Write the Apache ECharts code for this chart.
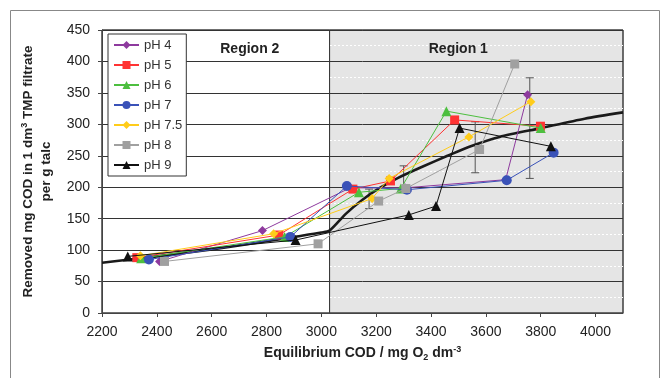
<!DOCTYPE html>
<html>
<head>
<meta charset="utf-8">
<script src="https://cdn.jsdelivr.net/npm/echarts@6/dist/echarts.min.js"></script>
<style>html,body{margin:0;padding:0;background:#fff;}#c{width:660px;height:378px;}</style>
</head>
<body>
<div id="c"></div>
<script>
// ---- data ----
const seriesNames = ['pH 4', 'pH 5', 'pH 6', 'pH 7', 'pH 7.5', 'pH 8', 'pH 9'];
const pH4 = [[2410, 82], [2785, 131], [3105, 199], [3305, 199], [3672, 212], [3752, 347]];
const pH5 = [[2327, 88], [2845, 124], [3115, 197], [3252, 210], [3486, 307], [3799, 297]];
const pH6 = [[2343, 87], [2866, 121], [3137, 192], [3290, 198], [3456, 321], [3800, 294]];
const pH7 = [[2371, 85], [2887, 121], [3093, 202], [3312, 196], [3676, 211], [3847, 255]];
const pH75 = [[2340, 91], [2826, 126], [3185, 182], [3247, 214], [3538, 280], [3764, 336]];
const pH8 = [[2428, 82], [2988, 110], [3209, 178], [3308, 198], [3577, 260], [3705, 396]];
const pH9 = [[2294, 90], [2906, 116], [3319, 156], [3418, 170], [3504, 294], [3837, 265]];
const curveX = [2200, 2400, 2600, 2800, 2900, 3000, 3030, 3090, 3150, 3210, 3280, 3370, 3460, 3550, 3650, 3800, 3960, 4100];
const curveY = [80, 90, 101, 114, 121, 128, 131, 158, 180, 198, 215, 233, 250, 266, 280, 294, 309, 319];
const errX = [3174, 3300, 3561, 3760];
const errLow = [166, 198, 223, 214];
const errHigh = [197, 234, 304, 374];
const regionBoundary = 3030;
const regionNames = ['Region 2', 'Region 1'];
const xTicks = { min: 2200, max: 4100, interval: 200 };
const yTicks = { min: 0, max: 450, interval: 50 };

// ---- styles ----
const colors = ['#8E3A9E', '#FF3333', '#4DBF3F', '#3A52B8', '#FFCC1A', '#A0A0A0', '#111111'];
const symbols = ['diamond', 'rect', 'triangle', 'circle', 'diamond', 'rect', 'triangle'];
const sizes = [9, 9, 10, 10, 9, 9, 10];
const allData = [pH4, pH5, pH6, pH7, pH75, pH8, pH9];
const FONT = "'Liberation Sans', Arial, sans-serif";

const chart = echarts.init(document.getElementById('c'), null, { renderer: 'canvas' });

const dataSeries = allData.map((d, i) => ({
  name: seriesNames[i],
  type: 'line',
  data: d,
  symbol: symbols[i],
  symbolSize: sizes[i],
  showAllSymbol: true,
  lineStyle: { color: colors[i], width: 1 },
  itemStyle: { color: colors[i] },
  z: 3 + i,
  animation: false
}));

const regionAreas = (withFill) => [
  [{ name: regionNames[0], xAxis: xTicks.min, yAxis: yTicks.min, itemStyle: { color: 'rgba(0,0,0,0)' },
     label: { offset: [34, 7] } },
   { xAxis: regionBoundary, yAxis: yTicks.max }],
  [{ name: regionNames[1], xAxis: regionBoundary, yAxis: yTicks.min,
     itemStyle: { color: withFill ? '#E5E5E5' : 'rgba(0,0,0,0)' },
     label: { offset: [-18, 7] } },
   { xAxis: xTicks.max, yAxis: yTicks.max }]
];

const option = {
  animation: false,
  textStyle: { fontFamily: FONT },
  graphic: [{
    type: 'rect', left: 8, top: 8, shape: { width: 649, height: 380 },
    style: { fill: 'none', stroke: '#888', lineWidth: 1 }, silent: true
  }],
  grid: { left: 102, right: 37, top: 30, bottom: 65, show: true, borderColor: '#444', borderWidth: 1, backgroundColor: 'transparent' },
  legend: {
    data: seriesNames,
    orient: 'vertical',
    left: 108, top: 34,
    backgroundColor: '#fff',
    borderColor: '#333', borderWidth: 1, borderRadius: 0,
    padding: [4, 4, 4, 5],
    itemWidth: 25, itemHeight: 10, itemGap: 6,
    textStyle: { fontFamily: FONT, fontSize: 13, color: '#333', lineHeight: 14 }
  },
  xAxis: {
    type: 'value',
    min: xTicks.min, max: xTicks.max, interval: xTicks.interval,
    name: 'Equilibrium COD / mg O{sub|2} dm{sup|-3}',
    nameLocation: 'middle', nameGap: 32,
    nameTextStyle: {
      fontFamily: FONT, fontSize: 14, fontWeight: 'bold', color: '#222',
      rich: {
        sub: { fontFamily: FONT, fontSize: 9, fontWeight: 'bold', color: '#222', padding: [8, 0, 0, 0] },
        sup: { fontFamily: FONT, fontSize: 9, fontWeight: 'bold', color: '#222', padding: [0, 0, 8, 0] }
      }
    },
    axisLine: { show: true, lineStyle: { color: '#444', width: 1 } },
    axisTick: { show: true, length: 4, lineStyle: { color: '#444' } },
    axisLabel: { fontFamily: FONT, fontSize: 14, color: '#222', margin: 12, showMaxLabel: false,
                 formatter: (v) => String(v) },
    splitLine: { show: false }
  },
  yAxis: {
    type: 'value',
    min: yTicks.min, max: yTicks.max, interval: yTicks.interval,
    name: '{t|Removed mg COD in 1 dm}{sup|3}{t| TMP filtrate}\n{t|per g talc}',
    nameLocation: 'middle', nameGap: 36, nameRotate: 90,
    nameTextStyle: {
      fontFamily: FONT, fontSize: 13.5, fontWeight: 'bold', color: '#222', lineHeight: 18,
      rich: {
        t: { fontFamily: FONT, fontSize: 13.5, fontWeight: 'bold', color: '#222', lineHeight: 18 },
        sup: { fontFamily: FONT, fontSize: 9, fontWeight: 'bold', color: '#222', padding: [0, 0, 8, 0] }
      }
    },
    axisLine: { show: true, lineStyle: { color: '#444', width: 1 } },
    axisTick: { show: true, length: 4, lineStyle: { color: '#444' } },
    axisLabel: { fontFamily: FONT, fontSize: 14, color: '#222', margin: 12 },
    splitLine: { show: true, lineStyle: { color: '#333', width: 1 } },
    minorTick: { show: false, splitNumber: 2 },
    minorSplitLine: { show: true, lineStyle: { color: '#ffffff', width: 1, type: [2, 2] } }
  },
  series: [
    {
      name: 'regions', type: 'line', data: [], z: -1,
      markArea: {
        silent: true, z: -1,
        data: regionAreas(true),
        itemStyle: { borderColor: '#333', borderWidth: 1 },
        label: { show: false }
      }
    },
    {
      name: 'regionLabels', type: 'line', data: [], z: 20,
      markArea: {
        silent: true, z: 20,
        data: regionAreas(false),
        itemStyle: { borderWidth: 0 },
        label: { show: true, position: 'insideTop', fontFamily: FONT, fontSize: 14, fontWeight: 'bold', color: '#222' }
      }
    },
    {
      name: 'model', type: 'line',
      data: curveX.map((x, i) => [x, curveY[i]]),
      symbol: 'none', smooth: 0.25,
      lineStyle: { color: '#1a1a1a', width: 2.6 },
      z: 2
    },
    {
      name: 'err', type: 'custom',
      data: errX.map((x, i) => [x, errLow[i], errHigh[i]]),
      renderItem: function (params, api) {
        const lo = api.coord([api.value(0), api.value(1)]);
        const hi = api.coord([api.value(0), api.value(2)]);
        const w = 4;
        const st = { stroke: '#555', lineWidth: 1 };
        return {
          type: 'group',
          children: [
            { type: 'line', shape: { x1: lo[0], y1: lo[1], x2: hi[0], y2: hi[1] }, style: st },
            { type: 'line', shape: { x1: lo[0] - w, y1: lo[1], x2: lo[0] + w, y2: lo[1] }, style: st },
            { type: 'line', shape: { x1: hi[0] - w, y1: hi[1], x2: hi[0] + w, y2: hi[1] }, style: st }
          ]
        };
      },
      z: 2
    }
  ].concat(dataSeries)
};

chart.setOption(option);
</script>
</body>
</html>
